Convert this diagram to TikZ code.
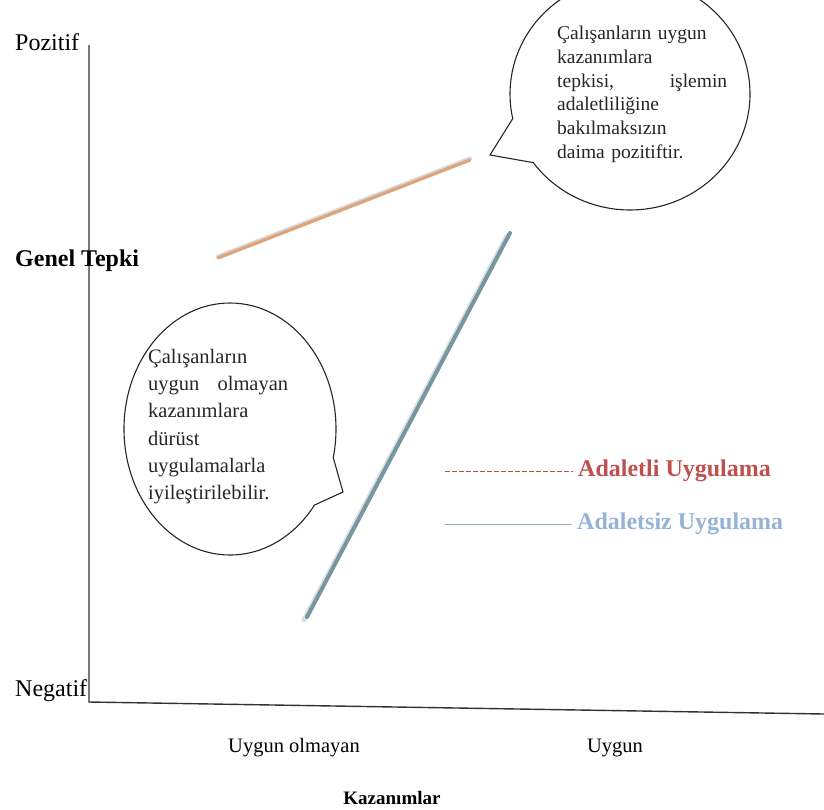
\documentclass[tikz,border=0pt]{standalone}
\usepackage{fontspec}
\setmainfont{Liberation Serif}
\usetikzlibrary{shapes.callouts}

\definecolor{axisgray}{RGB}{50,50,50}
\definecolor{fairline}{RGB}{222,165,122}
\definecolor{unfairline}{RGB}{118,150,160}
\definecolor{fairtext}{RGB}{192,80,77}
\definecolor{unfairtext}{RGB}{149,179,215}

\tikzset{
  axisline/.style={draw=axisgray, line width=1.4pt},
  sidelbl/.style={inner sep=0pt, font=\fontsize{24}{26}\selectfont},
  lbl/.style={inner sep=0pt, font=\fontsize{20.5}{24}\selectfont},
  boldlbl/.style={inner sep=0pt, font=\fontsize{19}{24}\selectfont\bfseries},
  bubble/.style={ellipse callout, draw=black!85, line width=1.1pt, fill=white,
                 callout pointer arc=24, inner sep=0pt},
  bubbletext/.style={inner sep=0pt, align=left, text=black!85},
  legendtext/.style={inner sep=0pt, font=\fontsize{24}{26}\selectfont\bfseries},
}

\begin{document}
\begin{tikzpicture}[x=1pt, y=-1pt]
\useasboundingbox (0,0) rectangle (824,809);
\clip (0,0) rectangle (824,809);

% axes
\coordinate (ytop) at (89,45);
\coordinate (origin) at (89,702);
\coordinate (xend) at (824,714);
\draw[axisline] (ytop) -- (origin) -- (xend);

% axis labels
\node[sidelbl, anchor=base west] (pozitif) at (15,50) {Pozitif};
\node[sidelbl, font=\fontsize{24}{26}\selectfont\bfseries, anchor=base west] (genel) at (15,266) {Genel Tepki};
\node[sidelbl, anchor=base west] (negatif) at (15,696) {Negatif};
\node[lbl, anchor=base] (uygunolm) at (294,752) {Uygun olmayan};
\node[lbl, anchor=base] (uygun) at (615,752) {Uygun};
\node[boldlbl, anchor=base] (kazanim) at (392,804) {Kazanımlar};

% fair practice line
\coordinate (f1) at (218,258);
\coordinate (f2) at (470,160);
\draw[line width=4pt, gray!30, line cap=round] ([yshift=1.5pt]f1) -- ([yshift=1.5pt]f2);
\draw[line width=3.2pt, fairline, line cap=round] (f1) -- (f2);

% unfair practice line
\coordinate (u1) at (307,617);
\coordinate (u2) at (510,233);
\draw[line width=5pt, unfairline!30, line cap=round] ([xshift=-3pt,yshift=-3pt]u1) -- ([xshift=-3pt,yshift=-3pt]u2);
\draw[line width=4pt, unfairline, line cap=round] (u1) -- (u2);

% callout bubbles
\node[bubble, minimum width=240pt, minimum height=232pt,
      callout absolute pointer={(490,155)}] (b1) at (630,94) {};
\node[bubble, minimum width=212pt, minimum height=252pt,
      callout absolute pointer={(343,492)}] (b2) at (230,429) {};

\node[bubbletext, text width=170pt, anchor=north west,
      font=\fontsize{19.5}{23.7}\selectfont] (t1) at (557,26)
  {Çalışanların uygun\\ kazanımlara\\ tepkisi,\hfill işlemin\\ adaletliliğine\\ bakılmaksızın\\ daima pozitiftir.};
\node[bubbletext, text width=140pt, anchor=north west,
      font=\fontsize{20.5}{27.2}\selectfont] (t2) at (148,349)
  {Çalışanların\\ uygun\hfill olmayan\\ kazanımlara\\ dürüst\\ uygulamalarla\\ iyileştirilebilir.};

% legend
\coordinate (lf1) at (445,471);
\coordinate (lf2) at (573,471);
\coordinate (lu1) at (445,524);
\coordinate (lu2) at (572,524);
\draw[fairtext, line width=1pt, dash pattern=on 5pt off 2pt] (lf1) -- (lf2);
\draw[unfairline!80, line width=1pt] (lu1) -- (lu2);
\node[legendtext, text=fairtext, anchor=west] (lfair) at (578,471) {Adaletli Uygulama};
\node[legendtext, text=unfairtext, anchor=west] (lunfair) at (577,524) {Adaletsiz Uygulama};
\end{tikzpicture}
\end{document}
